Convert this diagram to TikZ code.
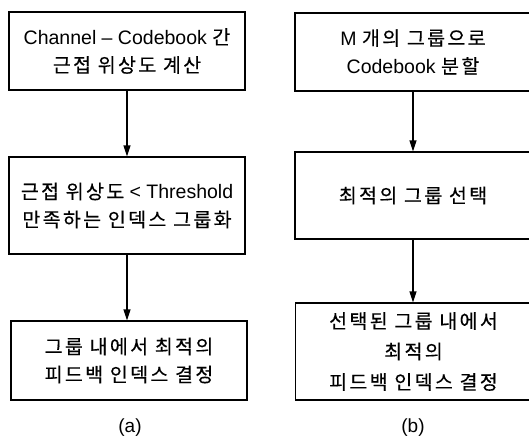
\documentclass[tikz,border=0pt]{standalone}
\usepackage{fontspec}
\setmainfont{Liberation Sans}
\newfontfamily\kr[LetterSpace=12,FakeBold=0.4]{Noto Sans CJK KR}
\usetikzlibrary{arrows.meta}
\begin{document}
\begin{tikzpicture}[x=1pt,y=-1pt,
  stepbox/.style={draw, line width=1.2pt, rectangle, inner sep=0pt,
    minimum width=236pt, align=center,
    font=\fontsize{19.5}{28}\selectfont},
  flow/.style={draw, line width=1.2pt,
    -{Triangle[length=11pt,width=7pt]}},
  sublabel/.style={font=\fontsize{19}{20}\selectfont}]
\useasboundingbox (0,0) rectangle (529,439);

% (a) grouping by neighbourhood phase
\node[stepbox, minimum height=78pt] (a1) at (127,51)
  {Channel -- Codebook {\kr 간}\\{\kr 근접 위상도 계산}};
\node[stepbox, minimum height=97pt] (a2) at (127,205.5)
  {{\kr 근접 위상도} < Threshold\\{\kr 만족하는 인덱스 그룹화}};
\node[stepbox, minimum height=79pt] (a3) at (129,360.5)
  {{\kr 그룹 내에서 최적의}\\{\kr 피드백 인덱스 결정}};
\node[sublabel] (la) at (130,428) {(a)};

% (b) grouping into M groups
\node[stepbox, minimum height=78pt] (b1) at (413,52)
  {M {\kr 개의 그룹으로}\\Codebook {\kr 분할}};
\node[stepbox, minimum height=87pt] (b2) at (413,195.5)
  {{\kr 최적의 그룹 선택}};
\node[stepbox, minimum height=97pt, font=\fontsize{19.5}{30.5}\selectfont] (b3) at (413.5,351.5)
  {{\kr 선택된 그룹 내에서}\\{\kr 최적의}\\{\kr 피드백 인덱스 결정}};
\node[sublabel] (lb) at (413,428) {(b)};

\draw[flow] (a1.south) -- (a2.north);
\draw[flow] (a2.south) -- (a2.south |- a3.north);
\draw[flow] (b1.south) -- (b2.north);
\draw[flow] (b2.south) -- (b2.south |- b3.north);
\end{tikzpicture}
\end{document}
